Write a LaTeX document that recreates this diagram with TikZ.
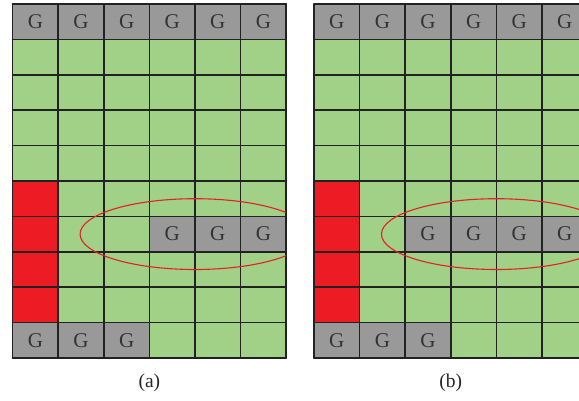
\documentclass[tikz,border=0pt]{standalone}
\usepackage{fontspec}
\setmainfont{Liberation Serif}
\usepackage{xcolor}
\definecolor{cellgreen}{RGB}{161,208,135}
\definecolor{cellgrey}{RGB}{153,153,153}
\definecolor{cellred}{RGB}{237,28,36}
\definecolor{gridline}{RGB}{34,34,34}
\definecolor{ringred}{RGB}{228,32,38}

\begin{document}
\begin{tikzpicture}[x=1pt,y=-1pt,line cap=round,
  gcell/.style={fill=cellgrey,text=black!80,inner sep=0pt,
    minimum width=45.6pt,minimum height=35.4pt,font=\fontsize{21}{21}\selectfont},
  gridlines/.style={gridline,line width=1.6pt},
  ring/.style={ringred,line width=1.1pt},
  caption/.style={font=\fontsize{19.5}{19.5}\selectfont,text=black!85}]
  \def\W{45.6}
  \def\H{35.4}
  \useasboundingbox (0,0) rectangle (579,400);

  % --- Panel A ---
  \begin{scope}[shift={(12.6,4)}]
    \fill[cellgreen] (0,0) rectangle (6*\W,10*\H);
    \fill[cellred] (0,5*\H) rectangle (\W,9*\H);

    % G cells
    \foreach \c in {0,...,5}
      \node[gcell] (a-top-\c) at ({(\c+0.5)*\W},{0.5*\H}) {G};
    \foreach \c in {3,4,5}
      \node[gcell] (a-mid-\c) at ({(\c+0.5)*\W},{6.5*\H}) {G};
    \foreach \c in {0,1,2}
      \node[gcell] (a-bot-\c) at ({(\c+0.5)*\W},{9.5*\H}) {G};

    % grid
    \foreach \i in {0,...,6}
      \draw[gridlines] (\i*\W,0) -- (\i*\W,10*\H);
    \foreach \j in {0,...,10}
      \draw[gridlines] (0,\j*\H) -- (6*\W,\j*\H);

    % ring round the G row
    \begin{scope}
      \clip (0,0) rectangle (6*\W,10*\H);
      \draw[ring] (4*\W,6.5*\H) ellipse [x radius=2.52*\W, y radius=\H];
    \end{scope}

    \node[caption] (lbl-a) at (3*\W,{10*\H+25}) {(a)};
  \end{scope}

  % --- Panel B ---
  \begin{scope}[shift={(314,4)}]
    \fill[cellgreen] (0,0) rectangle (6*\W,10*\H);
    \fill[cellred] (0,5*\H) rectangle (\W,9*\H);

    % G cells
    \foreach \c in {0,...,5}
      \node[gcell] (b-top-\c) at ({(\c+0.5)*\W},{0.5*\H}) {G};
    \foreach \c in {2,3,4,5}
      \node[gcell] (b-mid-\c) at ({(\c+0.5)*\W},{6.5*\H}) {G};
    \foreach \c in {0,1,2}
      \node[gcell] (b-bot-\c) at ({(\c+0.5)*\W},{9.5*\H}) {G};

    % grid
    \foreach \i in {0,...,6}
      \draw[gridlines] (\i*\W,0) -- (\i*\W,10*\H);
    \foreach \j in {0,...,10}
      \draw[gridlines] (0,\j*\H) -- (6*\W,\j*\H);

    % ring round the G row
    \begin{scope}
      \clip (0,0) rectangle (6*\W,10*\H);
      \draw[ring] (4*\W,6.5*\H) ellipse [x radius=2.52*\W, y radius=\H];
    \end{scope}

    \node[caption] (lbl-b) at (3*\W,{10*\H+25}) {(b)};
  \end{scope}
\end{tikzpicture}
\end{document}
